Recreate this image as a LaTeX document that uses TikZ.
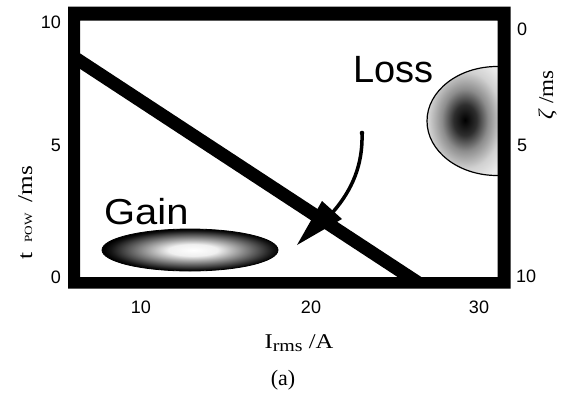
\documentclass[tikz,border=0pt]{standalone}
\usepackage{fontspec}
\setmainfont{Liberation Serif}
\setsansfont{Liberation Sans}
\pgfdeclareradialshading{gainshade}{\pgfpoint{1bp}{0bp}}{color(0bp)=(white); color(7bp)=(white!94!black); color(13bp)=(black!38); color(19bp)=(black!70); color(23bp)=(black!92); color(25bp)=(black); color(50bp)=(black)}
\pgfdeclareradialshading{lossshade}{\pgfpoint{0bp}{0bp}}{color(0bp)=(black); color(6bp)=(black!82); color(12bp)=(black!45); color(19bp)=(black!18); color(25bp)=(black!8); color(50bp)=(black!8)}
\begin{document}
\begin{tikzpicture}[x=1pt,y=-1pt,
  tick/.style={font=\sffamily\fontsize{18}{20}\selectfont, inner sep=0pt},
  big/.style={font=\sffamily\fontsize{38}{42}\selectfont, inner sep=0pt},
  axlab/.style={font=\fontsize{21}{24}\selectfont, inner sep=0pt},
  framefill/.style={fill=black, even odd rule},
  diag/.style={line width=13pt},
  tail/.style={line width=3.5pt}]
\useasboundingbox (0,0) rectangle (562,392);
\fill[white] (0,0) rectangle (562,392);

% Loss region
\begin{scope}
  \clip (80,20.5) rectangle (498,277);
  \begin{scope}
    \clip (497,121) ellipse [x radius=70pt, y radius=54.5pt];
    \fill[black!8] (420,60) rectangle (500,180);
    \shade[shading=lossshade] (465,120) ellipse [x radius=48pt, y radius=64pt];
  \end{scope}
  \draw[line width=1.2pt] (497,121) ellipse [x radius=70pt, y radius=54.5pt];
\end{scope}

% Gain region
\shade[shading=gainshade] (190,250) ellipse [x radius=88pt, y radius=21pt];
\draw[line width=0.8pt] (190,250) ellipse [x radius=88pt, y radius=21pt];

% diagonal line
\coordinate (d1) at (60,48);
\coordinate (d2) at (440,297);
\begin{scope}
  \clip (80,20.5) rectangle (497.5,277);
  \draw[diag] (d1) -- (d2);
\end{scope}

% frame
\fill[framefill] (68,6.5) rectangle (510.5,288.5) (80,20.5) rectangle (497.5,277);

% arrow
\coordinate (at) at (362,133);
\coordinate (ah) at (333,212);
\draw[tail] (at) .. controls (363,165) and (352,190) .. (ah);
\fill (at) circle (2.3pt);
\coordinate (tip) at (297,245);
\coordinate (hb1) at (322,201);
\coordinate (hb2) at (342,219);
\fill (tip) -- (hb1) -- (hb2) -- cycle;

% tick labels
\node[tick, anchor=base east] (l10) at (61,28) {10};
\node[tick, anchor=base east] (l5) at (61,151.5) {5};
\node[tick, anchor=base east] (l0) at (61,283) {0};
\node[tick, anchor=base west] (r0) at (517,35) {0};
\node[tick, anchor=base west] (r5) at (517,151) {5};
\node[tick, anchor=base west] (r10) at (516,282) {10};
\node[tick, anchor=base] (b10) at (141,313) {10};
\node[tick, anchor=base] (b20) at (311,313) {20};
\node[tick, anchor=base] (b30) at (479,313) {30};

% region labels
\node[big, anchor=base west] (gain) at (104,224) {\scalebox{1.05}[0.95]{Gain}};
\node[big, anchor=base west] (loss) at (353,82) {Loss};

% axis labels
\node[axlab, anchor=base] (xl) at (299,348) {\scalebox{1.17}[1]{I\raisebox{-3pt}{\fontsize{17}{18}\selectfont rms} /A}};
\node[axlab, rotate=90, anchor=base] (yl) at (32,213) {\scalebox{1.2}[1]{t\, {\fontsize{11}{12}\selectfont POW}\, /ms}};
\node[axlab, rotate=90, anchor=base] (yr) at (553,95) {\scalebox{1.1}[1]{\textit{ζ} /ms}};
\node[font=\fontsize{22}{24}\selectfont, inner sep=0pt, anchor=base] (cap) at (283,385) {(a)};
\end{tikzpicture}
\end{document}
